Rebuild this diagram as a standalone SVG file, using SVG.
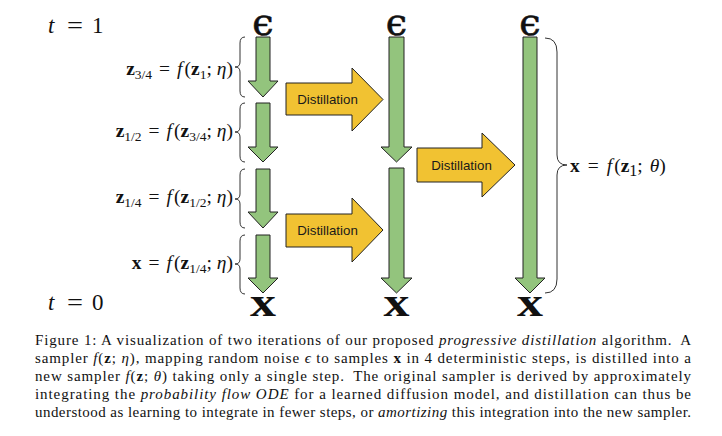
<svg xmlns="http://www.w3.org/2000/svg" width="722" height="436" viewBox="0 0 722 436">
<style>
.step{fill:#93c47d;stroke:#222;stroke-width:1}
.dist{fill:#f1c232;stroke:#222;stroke-width:1}
.dlab{font-family:"Liberation Sans",Arial,sans-serif;font-size:13.3px;fill:#1a1a1a;text-anchor:middle}
.brace{fill:none;stroke:#333;stroke-width:1}
.math{font-family:"Liberation Serif","Times New Roman",serif;font-size:19.5px;fill:#111}
.b{font-weight:bold}
.i{font-style:italic}
.eps{font-family:"DejaVu Serif",serif;font-size:38px;fill:#111;stroke:#111;stroke-width:0.6;text-anchor:middle}
.bx{font-family:"Liberation Serif","Times New Roman",serif;font-size:40px;font-weight:bold;fill:#111;text-anchor:middle}
.tl{font-family:"Liberation Serif","Times New Roman",serif;font-size:23px;fill:#111}
.cap{font-family:"Liberation Serif","Times New Roman",serif;font-size:15px;fill:#111}
</style>

<g id="time-labels">
  <text class="tl"><tspan x="48" y="33" class="i">t</tspan><tspan x="67" y="33" textLength="16" lengthAdjust="spacingAndGlyphs">=</tspan><tspan x="92" y="33">1</tspan></text>
  <text class="tl"><tspan x="48" y="310" class="i">t</tspan><tspan x="67" y="310" textLength="16" lengthAdjust="spacingAndGlyphs">=</tspan><tspan x="92" y="310">0</tspan></text>
</g>

<g id="noise-symbols">
  <text class="eps" x="263" y="35">ϵ</text>
  <text class="eps" x="396.5" y="35">ϵ</text>
  <text class="eps" x="530" y="35">ϵ</text>
</g>

<g id="sample-symbols">
  <text class="bx" x="263" y="316" textLength="26" lengthAdjust="spacingAndGlyphs">x</text>
  <text class="bx" x="396.5" y="316" textLength="26" lengthAdjust="spacingAndGlyphs">x</text>
  <text class="bx" x="530" y="316" textLength="26" lengthAdjust="spacingAndGlyphs">x</text>
</g>

<g id="sampler-4-steps">
  <polygon class="step" points="256,37 270,37 270,81 278,81 263,97 248,81 256,81"/>
  <polygon class="step" points="256,103 270,103 270,147 278,147 263,162 248,147 256,147"/>
  <polygon class="step" points="256,169 270,169 270,212 278,212 263,228 248,212 256,212"/>
  <polygon class="step" points="256,235 270,235 270,278 278,278 263,293 248,278 256,278"/>
</g>

<g id="sampler-2-steps">
  <polygon class="step" points="389,37 404,37 404,147 412,147 396.5,162 381,147 389,147"/>
  <polygon class="step" points="389,168 404,168 404,278 412,278 396.5,293 381,278 389,278"/>
</g>

<g id="sampler-1-step">
  <polygon class="step" points="523,37 537,37 537,278 545,278 530,293 515,278 523,278"/>
</g>

<g id="step-braces">
  <path class="brace" d="M245,37 Q240,37 240,43 L240,62 Q240,67 235,67 Q240,67 240,72 L240,91 Q240,97 245,97"/>
  <path class="brace" d="M245,103 Q240,103 240,109 L240,127 Q240,132 235,132 Q240,132 240,137 L240,156 Q240,162 245,162"/>
  <path class="brace" d="M245,169 Q240,169 240,175 L240,194 Q240,199 235,199 Q240,199 240,204 L240,222 Q240,228 245,228"/>
  <path class="brace" d="M245,235 Q240,235 240,241 L240,259 Q240,264 235,264 Q240,264 240,269 L240,288 Q240,294 245,294"/>
  <path class="brace" d="M545,38 Q557,38 557,52 L557,155 Q557,165 567,165 Q557,165 557,175 L557,279 Q557,293 545,293"/>
</g>

<g id="step-labels">
  <text class="math" x="233" y="75" text-anchor="end"><tspan class="b">z</tspan><tspan font-size="13.5" dy="4">3/4</tspan><tspan dy="-4" dx="7">=</tspan><tspan class="i" dx="7">f</tspan><tspan dx="2">(</tspan><tspan class="b">z</tspan><tspan font-size="13.5" dy="4">1</tspan><tspan dy="-4">;</tspan><tspan class="i" dx="5">η</tspan>)</text>
  <text class="math" x="233" y="137" text-anchor="end"><tspan class="b">z</tspan><tspan font-size="13.5" dy="4">1/2</tspan><tspan dy="-4" dx="7">=</tspan><tspan class="i" dx="7">f</tspan><tspan dx="2">(</tspan><tspan class="b">z</tspan><tspan font-size="13.5" dy="4">3/4</tspan><tspan dy="-4">;</tspan><tspan class="i" dx="5">η</tspan>)</text>
  <text class="math" x="233" y="203" text-anchor="end"><tspan class="b">z</tspan><tspan font-size="13.5" dy="4">1/4</tspan><tspan dy="-4" dx="7">=</tspan><tspan class="i" dx="7">f</tspan><tspan dx="2">(</tspan><tspan class="b">z</tspan><tspan font-size="13.5" dy="4">1/2</tspan><tspan dy="-4">;</tspan><tspan class="i" dx="5">η</tspan>)</text>
  <text class="math" x="233" y="269" text-anchor="end"><tspan class="b">x</tspan><tspan dx="7">=</tspan><tspan class="i" dx="7">f</tspan><tspan dx="2">(</tspan><tspan class="b">z</tspan><tspan font-size="13.5" dy="4">1/4</tspan><tspan dy="-4">;</tspan><tspan class="i" dx="5">η</tspan>)</text>
  <text class="math" x="570" y="172" font-size="23"><tspan class="b">x</tspan><tspan dx="8">=</tspan><tspan class="i" dx="8">f</tspan><tspan dx="2">(</tspan><tspan class="b">z</tspan><tspan font-size="16" dy="4">1</tspan><tspan dy="-4">;</tspan><tspan class="i" dx="7">θ</tspan>)</text>
</g>

<g id="distillation-1a">
  <polygon class="dist" points="286,83 352,83 352,68 383,99.5 352,131 352,115 286,115"/>
  <text class="dlab" x="327.5" y="104">Distillation</text>
</g>
<g id="distillation-1b">
  <polygon class="dist" points="286,214 352,214 352,198 383,230 352,262 352,247 286,247"/>
  <text class="dlab" x="327.5" y="235">Distillation</text>
</g>
<g id="distillation-2">
  <polygon class="dist" points="417,148 482,148 482,133 515,165 482,197 482,182 417,182"/>
  <text class="dlab" x="461.5" y="170">Distillation</text>
</g>

<g id="caption" class="cap">
  <text x="35" y="345" textLength="656" lengthAdjust="spacing">Figure 1: A visualization of two iterations of our proposed <tspan class="i">progressive distillation</tspan> algorithm.<tspan dx="4"> A</tspan></text>
  <text x="35" y="363" textLength="656" lengthAdjust="spacing">sampler <tspan class="i">f</tspan>(<tspan class="b">z</tspan>; <tspan class="i">η</tspan>), mapping random noise <tspan class="i">ϵ</tspan> to samples <tspan class="b">x</tspan> in 4 deterministic steps, is distilled into a</text>
  <text x="35" y="381" textLength="656" lengthAdjust="spacing">new sampler <tspan class="i">f</tspan>(<tspan class="b">z</tspan>; <tspan class="i">θ</tspan>) taking only a single step.<tspan dx="4"> The</tspan> original sampler is derived by approximately</text>
  <text x="35" y="399" textLength="656" lengthAdjust="spacing">integrating the <tspan class="i">probability flow ODE</tspan> for a learned diffusion model, and distillation can thus be</text>
  <text x="35" y="417" textLength="656" lengthAdjust="spacing">understood as learning to integrate in fewer steps, or <tspan class="i">amortizing</tspan> this integration into the new sampler.</text>
</g>
</svg>
